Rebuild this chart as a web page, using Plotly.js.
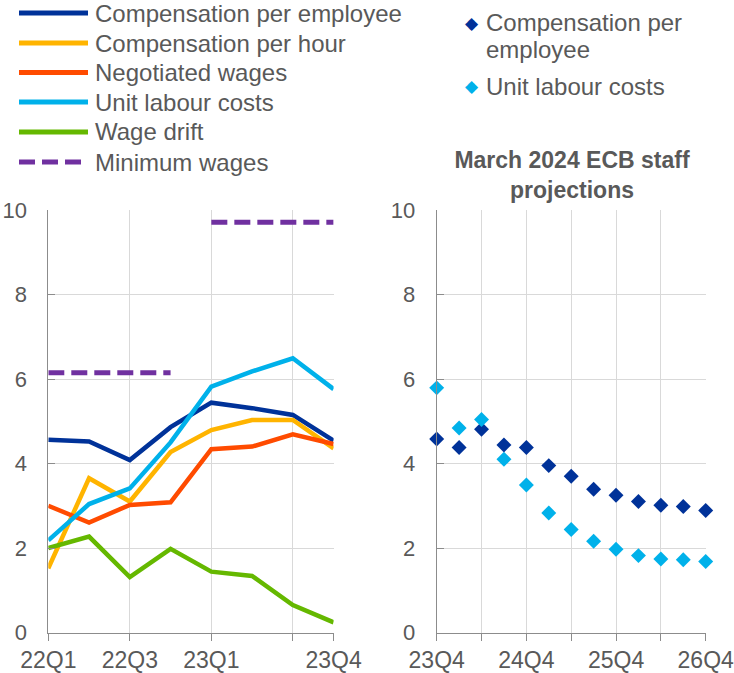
<!DOCTYPE html>
<html>
<head>
<meta charset="utf-8">
<script src="https://cdn.plot.ly/plotly-3.0.1.min.js"></script>
<style>html,body{margin:0;padding:0;background:#fff;}#chart{width:734px;height:673px;}</style>
</head>
<body>
<div id="chart"></div>
<script>
// ---------- Data ----------
const leftQuarters = ['22Q1','22Q2','22Q3','22Q4','23Q1','23Q2','23Q3','23Q4'];
const compPerEmployee = [4.56, 4.52, 4.08, 4.86, 5.44, 5.31, 5.15, 4.54];
const compPerHour     = [1.52, 3.65, 3.10, 4.27, 4.79, 5.03, 5.03, 4.36];
const negotiatedWages = [3.00, 2.60, 3.02, 3.08, 4.34, 4.40, 4.69, 4.46];
const unitLabourCosts = [2.18, 3.04, 3.41, 4.50, 5.82, 6.18, 6.49, 5.76];
const wageDrift       = [2.00, 2.27, 1.31, 1.98, 1.44, 1.34, 0.65, 0.24];
const minimumWages    = [6.15, 6.15, 6.15, 6.15, 9.71, 9.71, 9.71, 9.71];

const leftTickVals  = ['22Q1','22Q3','23Q1','23Q3','23Q4'];
const leftTickText  = ['22Q1','22Q3','23Q1','','23Q4'];

const projQuarters = ['23Q4','24Q1','24Q2','24Q3','24Q4','25Q1','25Q2','25Q3','25Q4','26Q1','26Q2','26Q3','26Q4'];
const projCompPerEmployee = [4.58, 4.38, 4.81, 4.44, 4.38, 3.95, 3.70, 3.39, 3.25, 3.10, 3.01, 2.98, 2.89];
const projUnitLabourCosts = [5.79, 4.84, 5.04, 4.10, 3.49, 2.83, 2.44, 2.16, 1.97, 1.82, 1.74, 1.72, 1.68];

const rightTickVals = ['23Q4','24Q2','24Q4','25Q2','25Q4','26Q2','26Q4'];
const rightTickText = ['23Q4','','24Q4','','25Q4','','26Q4'];

const leftNames  = ['Compensation per employee','Compensation per hour','Negotiated wages','Unit labour costs','Wage drift','Minimum wages'];
const leftColors = ['#003299','#FFB400','#FF4B00','#00B1EA','#65B800','#7030A0'];
const rightNames  = ['Compensation per<br>employee','Unit labour costs'];
const rightColors = ['#003299','#00B1EA'];
const chartTitle = '<b>March 2024 ECB staff<br>projections</b>';

// ---------- Styling ----------
const W = 734, H = 673;
const FONT = 'Liberation Sans, Arial, sans-serif';
const TXT = '#595959';
const AX = '#8c8c8c';
const px = v => v / W;
const py = v => 1 - v / H;
const MW_DASH = '16px,7px';

// minimum wages: break the line between years
const mwX = [], mwY = [];
leftQuarters.forEach((q, i) => {
  if (i > 0 && q.slice(0,2) !== leftQuarters[i-1].slice(0,2)) { mwX.push(null); mwY.push(null); }
  mwX.push(q); mwY.push(minimumWages[i]);
});

const leftSeries = [compPerEmployee, compPerHour, negotiatedWages, unitLabourCosts, wageDrift];
const traces = [];
leftSeries.forEach((ys, k) => {
  traces.push({
    type: 'scatter', mode: 'lines', x: leftQuarters, y: ys, name: leftNames[k],
    line: {color: leftColors[k], width: 4.5}, xaxis: 'x', yaxis: 'y', showlegend: false, hoverinfo: 'skip'
  });
});
traces.push({
  type: 'scatter', mode: 'lines', x: mwX, y: mwY, name: leftNames[5], connectgaps: false,
  line: {color: leftColors[5], width: 5, dash: MW_DASH}, xaxis: 'x', yaxis: 'y', showlegend: false, hoverinfo: 'skip'
});
[projCompPerEmployee, projUnitLabourCosts].forEach((ys, k) => {
  traces.push({
    type: 'scatter', mode: 'markers', x: projQuarters, y: ys, name: rightNames[k],
    marker: {symbol: 'diamond', size: 11.5, color: rightColors[k]}, cliponaxis: false,
    xaxis: 'x2', yaxis: 'y2', showlegend: false, hoverinfo: 'skip'
  });
});

// ---------- Custom legends ----------
const shapes = [], annotations = [];
const legY = [13, 43, 72.5, 102, 132, 162];
leftNames.forEach((n, i) => {
  shapes.push({type: 'line', xref: 'paper', yref: 'paper', x0: px(19), x1: px(88), y0: py(legY[i]), y1: py(legY[i]),
    line: {color: leftColors[i], width: 5, dash: i === 5 ? MW_DASH : 'solid'}});
  annotations.push({xref: 'paper', yref: 'paper', x: px(93), y: py(legY[i]), xanchor: 'left', yanchor: 'middle',
    text: n, showarrow: false, font: {family: FONT, size: 24, color: TXT}});
});
const rLegY = [23, 86];
rightNames.forEach((n, i) => {
  annotations.push({xref: 'paper', yref: 'paper', x: px(472), y: py(rLegY[i]), xanchor: 'center', yanchor: 'middle',
    text: '\u25C6', showarrow: false, font: {family: 'DejaVu Sans', size: 17, color: rightColors[i]}});
  n.split('<br>').forEach((line, j) => {
    annotations.push({xref: 'paper', yref: 'paper', x: px(484), y: py(rLegY[i] + j * 27), xanchor: 'left', yanchor: 'middle',
      text: line, showarrow: false, align: 'left', font: {family: FONT, size: 24, color: TXT}});
  });
});

const yCommon = {
  range: [0, 10], dtick: 2, tick0: 0, showgrid: true, gridcolor: '#d9d9d9', gridwidth: 1,
  showline: true, linecolor: AX, linewidth: 1, zeroline: false,
  ticks: 'inside', ticklen: 7, tickcolor: AX, ticklabelstandoff: 16,
  tickfont: {family: FONT, size: 22, color: TXT},
  domain: [1 - 632.5 / H, 1 - 210 / H], fixedrange: true
};
const xCommon = {
  type: 'category', showgrid: true, gridcolor: '#d9d9d9', gridwidth: 1,
  showline: true, linecolor: AX, linewidth: 1, zeroline: false,
  ticks: 'outside', ticklen: 7, tickcolor: AX, tickmode: 'array',
  tickfont: {family: FONT, size: 23, color: TXT}, ticklabelstandoff: 0, fixedrange: true
};

const layout = {
  width: W, height: H, autosize: false,
  margin: {l: 0, r: 0, t: 0, b: 0, pad: 0},
  paper_bgcolor: '#ffffff', plot_bgcolor: '#ffffff',
  font: {family: FONT, color: TXT},
  showlegend: false,
  title: {text: chartTitle, x: px(572), xanchor: 'center', y: py(168), yanchor: 'middle',
    font: {family: FONT, size: 23, color: TXT}},
  xaxis: Object.assign({}, xCommon, {domain: [px(48.3), px(333.6)], range: [0, 7], anchor: 'y',
    tickvals: leftTickVals, ticktext: leftTickText}),
  yaxis: Object.assign({}, yCommon, {anchor: 'x'}),
  xaxis2: Object.assign({}, xCommon, {domain: [px(436.7), px(705.7)], range: [0, 12], anchor: 'y2',
    tickvals: rightTickVals, ticktext: rightTickText}),
  yaxis2: Object.assign({}, yCommon, {anchor: 'x2'}),
  shapes: shapes,
  annotations: annotations
};

Plotly.newPlot('chart', traces, layout, {staticPlot: true, displayModeBar: false});
</script>
</body>
</html>
